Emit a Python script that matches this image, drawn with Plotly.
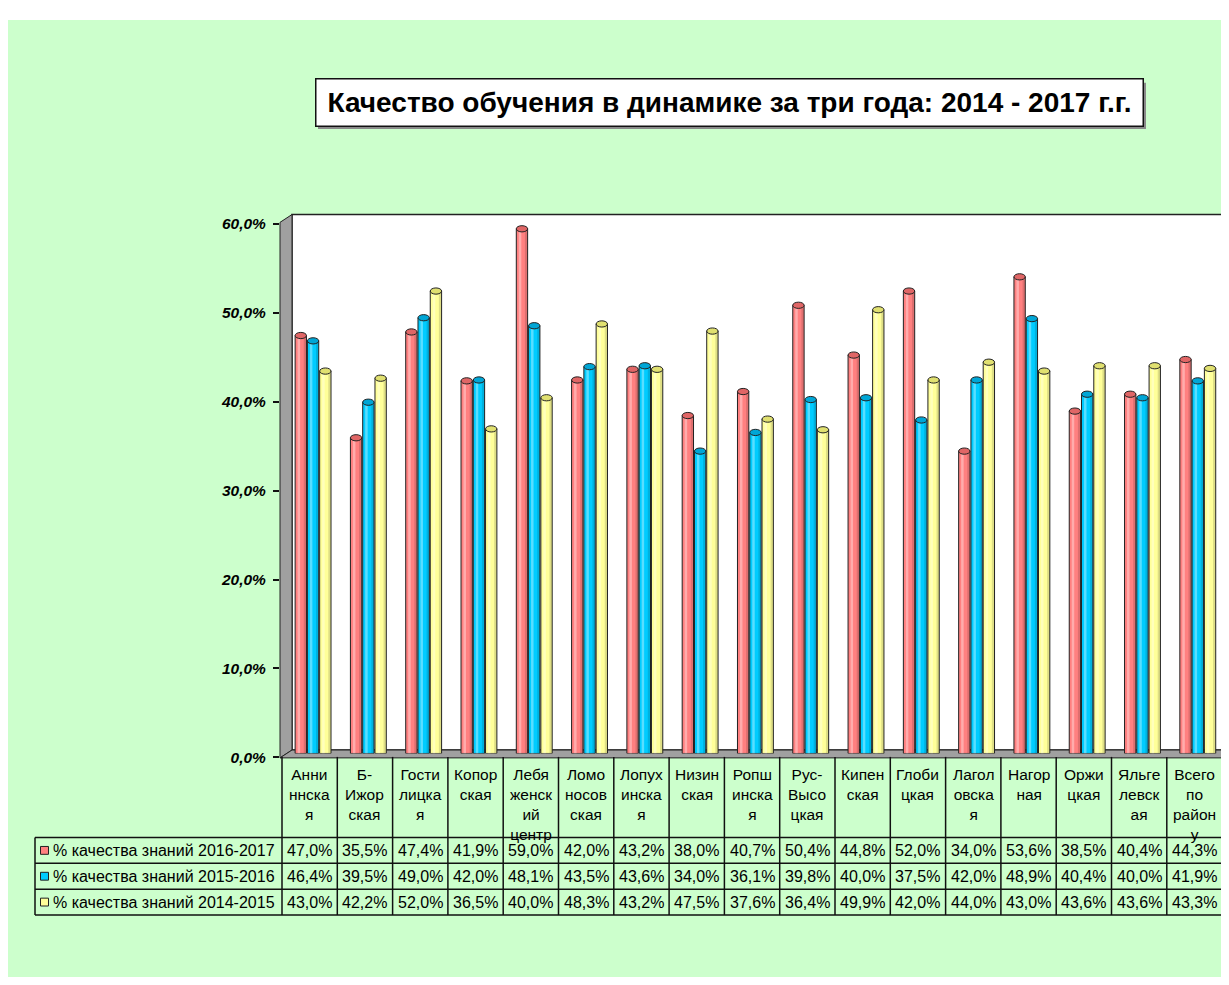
import plotly.graph_objects as go

# ---------------- data ----------------
categories = [
    "Анни<br>ннска<br>я", "Б-<br>Ижор<br>ская", "Гости<br>лицка<br>я", "Копор<br>ская",
    "Лебя<br>женск<br>ий<br>центр", "Ломо<br>носов<br>ская", "Лопух<br>инска<br>я",
    "Низин<br>ская", "Ропш<br>инска<br>я", "Рус-<br>Высо<br>цкая", "Кипен<br>ская",
    "Глоби<br>цкая", "Лагол<br>овска<br>я", "Нагор<br>ная", "Оржи<br>цкая",
    "Яльге<br>левск<br>ая", "Всего<br>по<br>район<br>у",
]
series_names = [
    "% качества знаний 2016-2017",
    "% качества знаний 2015-2016",
    "% качества знаний 2014-2015",
]
q_2016_2017 = [0.470, 0.355, 0.474, 0.419, 0.590, 0.420, 0.432, 0.380, 0.407, 0.504,
               0.448, 0.520, 0.340, 0.536, 0.385, 0.404, 0.443]
q_2015_2016 = [0.464, 0.395, 0.490, 0.420, 0.481, 0.435, 0.436, 0.340, 0.361, 0.398,
               0.400, 0.375, 0.420, 0.489, 0.404, 0.400, 0.419]
q_2014_2015 = [0.430, 0.422, 0.520, 0.365, 0.400, 0.483, 0.432, 0.475, 0.376, 0.364,
               0.499, 0.420, 0.440, 0.430, 0.436, 0.436, 0.433]
title_text = "Качество обучения в динамике за три года: 2014 - 2017 г.г."

series = [q_2016_2017, q_2015_2016, q_2014_2015]
colors = ["#FF8080", "#00CCFF", "#FFFF99"]
cap_colors = ["#E06666", "#00A6D6", "#E0E070"]

# page has an 8px body margin; figure is sized so it ends at the window edge
OFF = 8
W, H = 1229 - OFF, 985 - OFF
GREEN = "#CCFFCC"
LINE = "#111111"
FONT = "Liberation Sans, Arial"


def fx(p):
    return (p - OFF) / W


def fy(p):
    return 1 - (p - OFF) / H


fig = go.Figure()

# invisible trace so the front (labelled) axis is drawn
fig.add_trace(go.Scatter(x=[0.5], y=[0], xaxis="x", yaxis="y", mode="markers",
                         marker=dict(opacity=0), hoverinfo="skip", showlegend=False))

# ---------------- bars (cylinders) ----------------
bar_w = 0.205
offsets = [-0.335, -0.113, 0.109]
xs = list(range(len(categories)))
for k, vals in enumerate(series):
    fig.add_trace(go.Bar(
        x=xs, y=vals, xaxis="x3", yaxis="y3",
        width=bar_w, offset=offsets[k],
        marker=dict(color=colors[k], line=dict(color="#222222", width=1)),
        name=series_names[k], hoverinfo="y",
    ))
    # cylinder shading: light highlight and darker right side
    fig.add_trace(go.Bar(
        x=xs, y=vals, xaxis="x3", yaxis="y3",
        width=bar_w * 0.22, offset=offsets[k] + bar_w * 0.22,
        marker=dict(color="rgba(255,255,255,0.35)", line=dict(width=0)),
        hoverinfo="skip", showlegend=False,
    ))
    fig.add_trace(go.Bar(
        x=xs, y=vals, xaxis="x3", yaxis="y3",
        width=bar_w * 0.2, offset=offsets[k] + bar_w * 0.76,
        marker=dict(color="rgba(0,0,0,0.13)", line=dict(width=0)),
        hoverinfo="skip", showlegend=False,
    ))

shapes = []
# outer green background
shapes.append(dict(type="rect", xref="paper", yref="paper", x0=0, x1=1, y0=0, y1=fy(11),
                   fillcolor=GREEN, line=dict(width=0), layer="below"))
# back wall
shapes.append(dict(type="rect", xref="paper", yref="paper", x0=fx(292), x1=fx(1232), y0=fy(754), y1=fy(209),
                   fillcolor="white", line=dict(color="#222222", width=1.5), layer="below"))
# left wall
shapes.append(dict(type="path", xref="paper", yref="paper",
                   path=f"M {fx(280)} {fy(217)} L {fx(292)} {fy(209)} L {fx(292)} {fy(754)} L {fx(280)} {fy(762)} Z",
                   fillcolor="#A0A0A0", line=dict(color="#222222", width=1), layer="below"))
# floor
shapes.append(dict(type="path", xref="paper", yref="paper",
                   path=f"M {fx(280)} {fy(762)} L {fx(292)} {fy(754)} L {fx(1232)} {fy(754)} L {fx(1232)} {fy(762)} Z",
                   fillcolor="#A0A0A0", line=dict(color="#222222", width=1), layer="below"))
# title shadow
shapes.append(dict(type="rect", xref="paper", yref="paper", x0=fx(318), x1=fx(1146), y0=fy(122), y1=fy(75),
                   fillcolor="#8A8A8A", line=dict(width=0), layer="below"))

# cylinder caps (ellipses) from data
for k, vals in enumerate(series):
    for i, v in enumerate(vals):
        shapes.append(dict(type="circle", xref="x3", yref="y3",
                           x0=i + offsets[k], x1=i + offsets[k] + bar_w,
                           y0=v - 0.0035, y1=v + 0.0035,
                           fillcolor=cap_colors[k], line=dict(color="#222222", width=1), layer="above"))

# ---------------- data table (drawn with lines + text) ----------------
n = len(categories)
col_left = 282.0
col_w = 55.3
tab_left = 35.0
head_top, head_bot = 761.0, 843.0
row_h = 26.3
row_tops = [head_bot + r * row_h for r in range(4)]  # 843 .. 922
col_x = [col_left + j * col_w for j in range(n + 1)]


def hline(y, x0, x1):
    shapes.append(dict(type="line", xref="paper", yref="paper", x0=fx(x0), x1=fx(x1), y0=fy(y), y1=fy(y),
                       line=dict(color=LINE, width=1.5), layer="above"))


def vline(x, y0, y1):
    shapes.append(dict(type="line", xref="paper", yref="paper", x0=fx(x), x1=fx(x), y0=fy(y0), y1=fy(y1),
                       line=dict(color=LINE, width=1.5), layer="above"))


for x in col_x:
    vline(x, head_top, row_tops[-1])
vline(tab_left, row_tops[0], row_tops[-1])
for y in row_tops:
    hline(y, tab_left, col_x[-1])

annotations = []
for i, cat in enumerate(categories):
    cx = (col_x[i] + col_x[i + 1]) / 2
    annotations.append(dict(text=cat, xref="paper", yref="paper", x=fx(cx), y=fy(head_top + 7),
                            xanchor="center", yanchor="top", align="center", showarrow=False,
                            font=dict(family=FONT, size=15.5, color="black")))


def fmt(v):
    return f"{v * 100:.1f}%".replace(".", ",")


for k, vals in enumerate(series):
    cy = row_tops[k] + row_h / 2
    # legend key
    shapes.append(dict(type="rect", xref="paper", yref="paper",
                       x0=fx(40.5), x1=fx(48.5), y0=fy(cy + 4), y1=fy(cy - 4),
                       fillcolor=colors[k], line=dict(color="#222222", width=1), layer="above"))
    annotations.append(dict(text=series_names[k], xref="paper", yref="paper", x=fx(51), y=fy(cy),
                            xanchor="left", yanchor="middle", showarrow=False,
                            font=dict(family=FONT, size=16, color="black")))
    for i, v in enumerate(vals):
        cx = (col_x[i] + col_x[i + 1]) / 2
        annotations.append(dict(text=fmt(v), xref="paper", yref="paper", x=fx(cx), y=fy(cy),
                                xanchor="center", yanchor="middle", showarrow=False,
                                font=dict(family=FONT, size=16, color="black")))

# title
annotations.append(dict(
    text="<b>" + title_text + "</b>", xref="paper", yref="paper", x=fx(729), y=fy(95.5),
    xanchor="center", yanchor="middle", showarrow=False,
    font=dict(family=FONT, size=28, color="black"),
    bgcolor="white", bordercolor=LINE, borderwidth=1.5, borderpad=1,
    width=824, height=44,
))

fig.update_layout(
    width=W, height=H,
    margin=dict(l=0, r=0, t=0, b=0),
    paper_bgcolor="white",
    plot_bgcolor="rgba(0,0,0,0)",
    separators=", ",
    showlegend=False,
    barmode="overlay",
    shapes=shapes,
    annotations=annotations,
    # front axis with tick labels
    xaxis=dict(domain=[fx(280), 1], range=[0, 1], visible=False, anchor="y", fixedrange=True),
    yaxis=dict(domain=[fy(761.5), fy(218.5)], range=[0, 0.6], anchor="x",
               tickmode="linear", tick0=0, dtick=0.1, tickformat=".1%",
               ticks="outside", ticklen=6, tickwidth=1.5, tickcolor=LINE,
               ticklabelstandoff=4,
               showgrid=False, zeroline=False, showline=False,
               tickfont=dict(family=FONT, size=15.5, color="black",
                             weight="bold", style="italic")),
    # back wall grid
    xaxis2=dict(domain=[fx(292), 1], range=[0, 1], visible=False, anchor="y2"),
    yaxis2=dict(domain=[fy(754), fy(209)], range=[0, 0.6], anchor="x2",
                tickmode="linear", tick0=0, dtick=0.1, showgrid=True,
                gridcolor="#333333", gridwidth=1.5, showticklabels=False,
                ticks="", zeroline=False, showline=False),
    # bars
    xaxis3=dict(domain=[fx(286), fx(1226)], range=[-0.5, 16.5], visible=False, anchor="y3"),
    yaxis3=dict(domain=[fy(757.5), fy(214.5)], range=[0, 0.6], visible=False, anchor="x3"),
)

fig.write_html("out.html")
